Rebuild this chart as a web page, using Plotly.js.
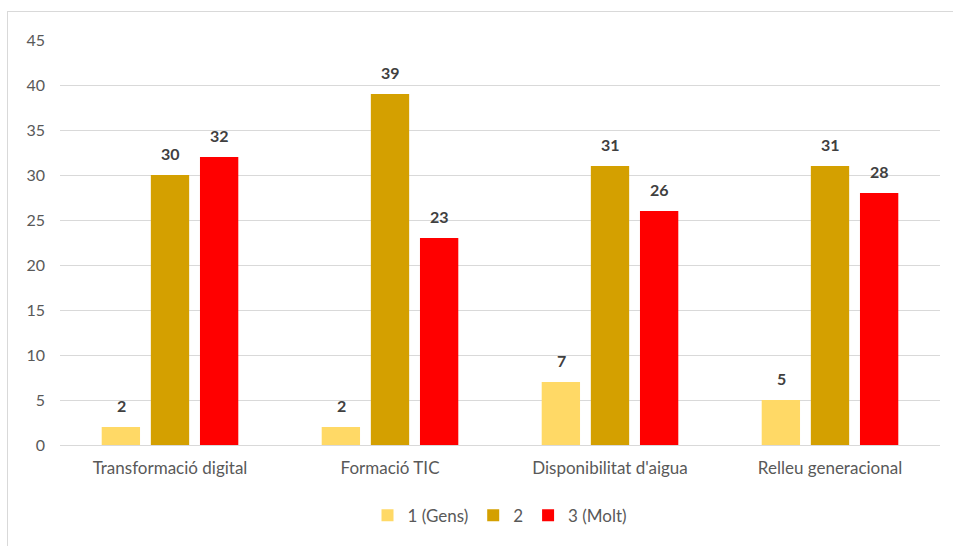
<!DOCTYPE html>
<html><head><meta charset="utf-8">
<script src="https://cdn.plot.ly/plotly-3.0.1.min.js"></script>
<style>html,body{margin:0;padding:0;background:#fff}#wrap{position:relative;width:953px;height:546px}#chart{width:953px;height:546px}#frame{position:absolute;left:7px;top:11px;width:960px;height:560px;border:1px solid #d9d9d9;pointer-events:none}</style>
</head><body><div id="wrap"><div id="chart"></div><div id="frame"></div></div>
<script>
const categories = ["Transformació digital", "Formació TIC", "Disponibilitat d'aigua", "Relleu generacional"];
const seriesNames = ["1 (Gens)", "2", "3 (Molt)"];
const gens = [2, 2, 7, 5];
const dos = [30, 39, 31, 31];
const molt = [32, 23, 26, 28];
const yTicks = [0, 5, 10, 15, 20, 25, 30, 35, 40, 45];

const colors = ["#FFD966", "#D4A000", "#FF0000"];
const series = [gens, dos, molt];
const traces = series.map((v, i) => ({
  type: 'bar', x: categories, y: v, name: seriesNames[i],
  marker: {color: colors[i]}, hoverinfo: 'skip'
}));
const shifts = [-49, 0, 49];
const annotations = [];
series.forEach((v, i) => v.forEach((val, j) => annotations.push({
  x: categories[j], y: val, text: '<b>' + val + '</b>', showarrow: false,
  xref: 'x', yref: 'y', xshift: shifts[i], yanchor: 'bottom', yshift: 10,
  font: {family: 'Lato, sans-serif', size: 16, color: '#404040'}
})));
const layout = {
  width: 953, height: 546,
  margin: {l: 60, r: 13, t: 40, b: 101},
  barmode: 'group', bargap: 0.33, bargroupgap: 0.22,
  paper_bgcolor: '#fff', plot_bgcolor: '#fff',
  font: {family: 'Lato, sans-serif', size: 16, color: '#595959'},
  xaxis: {automargin: false, showgrid: false, showline: true, linecolor: '#d9d9d9', linewidth: 1, ticks: '', tickfont: {size: 17, color: '#595959'}, ticklabelstandoff: 8},
  yaxis: {automargin: false, range: [0, 45], tickvals: yTicks, showgrid: true, gridcolor: '#d9d9d9', gridwidth: 1, zeroline: true, zerolinecolor: '#d9d9d9', showline: false, ticks: '', ticklabelstandoff: 14, tickfont: {size: 16, color: '#595959'}},
  legend: {orientation: 'h', x: 0.5, xanchor: 'center', y: -0.13, yanchor: 'top', font: {size: 17, color: '#595959'}, itemwidth: 30, traceorder: 'normal'},
  showlegend: true,
  annotations: annotations
};
Plotly.newPlot('chart', traces, layout, {displayModeBar: false, staticPlot: true});
</script></body></html>
